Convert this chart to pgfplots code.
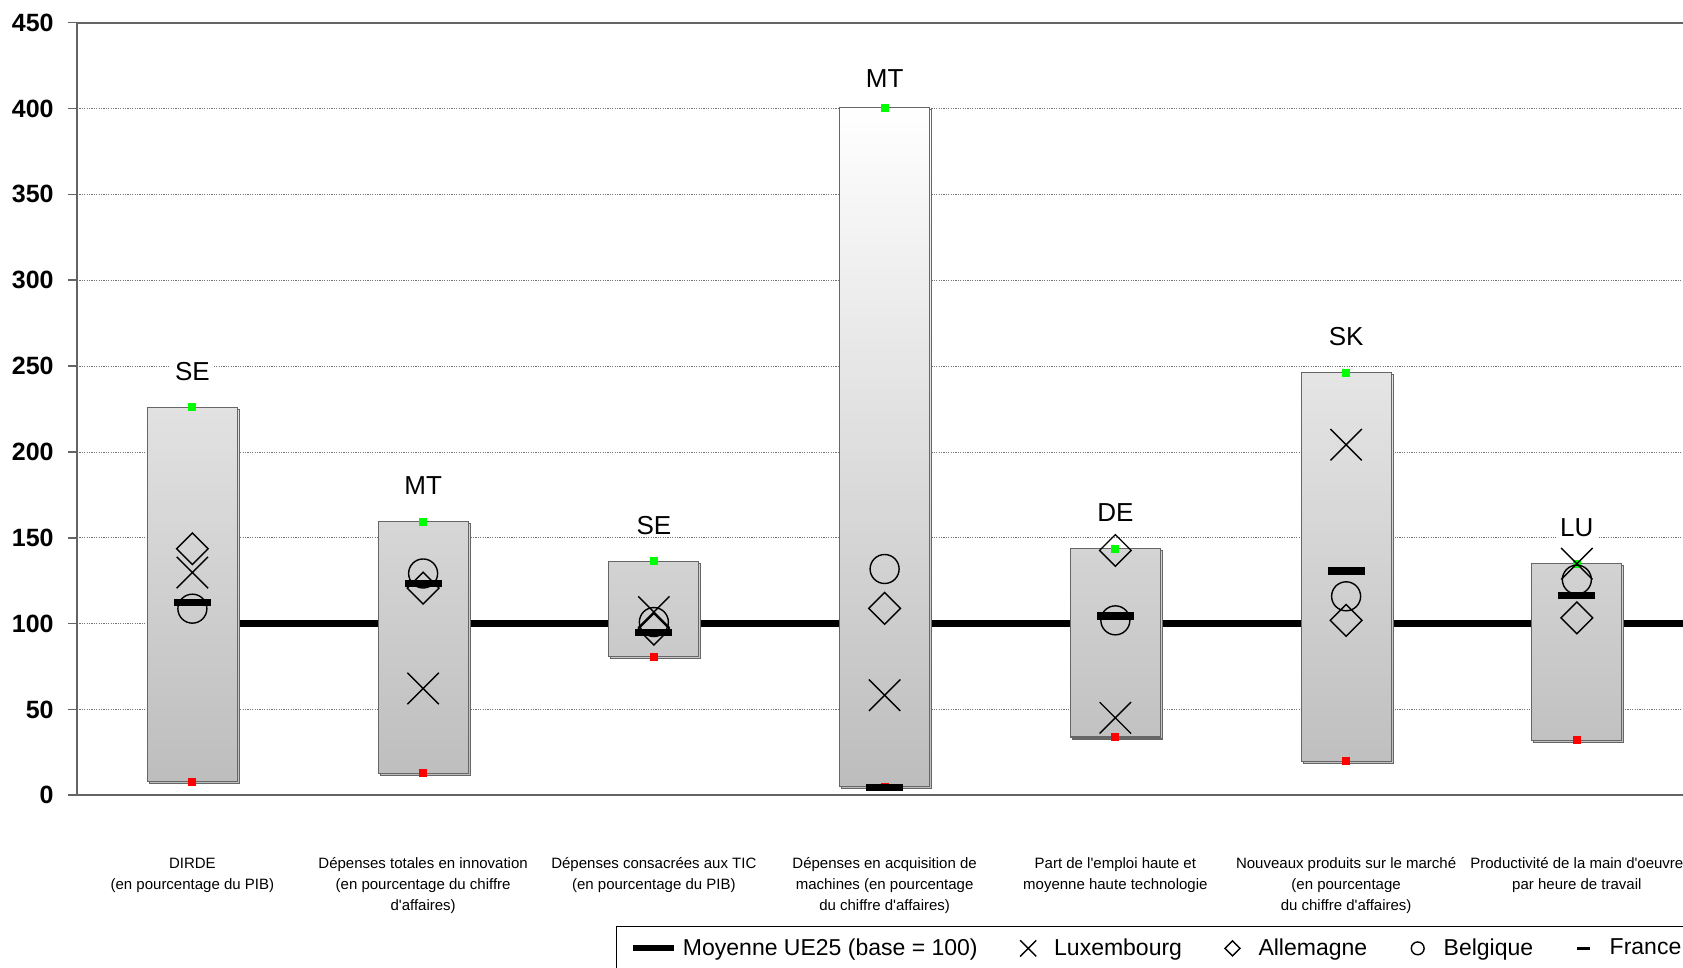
\documentclass[border=0pt]{standalone}
\usepackage{fontspec}
\setmainfont{Liberation Sans}[Ligatures=TeXOff]
\usepackage{pgfplots}
\usepackage{pgfplotstable}
\pgfplotsset{compat=1.18}
\usetikzlibrary{shadows}

% min / max of the range, then the four countries, the code of the best country
% and the lift of that code above the box (pt)
\pgfplotstableread{
x   min   max    lux    all    bel    fra    lab  off
0   8.0   226.0  129.7  143.6  108.7  112.2  SE   18
1   12.8  159.5  62.2   120.7  129.2  123.3  MT   18
2   80.8  136.3  106.7  96.7   100.9  94.8   SE   18
3   5.0   400.5  58.3   108.9  131.8  4.5    MT   14.8
4   34.0  143.6  45.1   142.6  101.9  104.4  DE   18
5   19.8  246.2  204.2  101.9  115.9  130.6  SK   18
6   32.0  134.8  134.9  103.3  125.6  116.5  LU   18
}\data

\definecolor{vert}{RGB}{0,255,0}
\definecolor{rouge}{RGB}{255,0,0}
\definecolor{axe}{RGB}{100,100,100}

\pgfplotsset{
  base/.style={
    scale only axis, width=803pt, height=386.3pt,
    xmin=-0.5, xmax=6.46, ymin=0, ymax=450,
    enlargelimits=false, clip=false,
  },
  hidden/.style={base, axis lines=none, xtick=\empty, ytick=\empty},
}

\begin{document}
\begin{tikzpicture}
% axes, grid and EU line
\begin{axis}[base,
  axis x line=box, axis y line=left,
  axis line style={-, axe, line width=1.1pt},
  ymajorgrids,
  grid style={black!55, line width=0.4pt, dash pattern=on 0.6pt off 0.6pt},
  ytick={0,50,...,450},
  tick align=outside, major tick length=4.5pt,
  ytick style={axe, line width=0.8pt},
  yticklabel style={font=\fontsize{12.5}{14}\selectfont\bfseries, inner sep=0pt, xshift=-7pt},
  /pgf/number format/assume math mode=true,
  xtick={0,...,6}, xtick style={draw=none},
  xticklabels={
    {\rule{0pt}{7pt}DIRDE\\(en pourcentage du PIB)},
    {\rule{0pt}{7pt}Dépenses totales en innovation\\(en pourcentage du chiffre\\d'affaires)},
    {\rule{0pt}{7pt}Dépenses consacrées aux TIC\\(en pourcentage du PIB)},
    {\rule{0pt}{7pt}Dépenses en acquisition de\\machines (en pourcentage\\du chiffre d'affaires)},
    {\rule{0pt}{7pt}Part de l'emploi haute et\\moyenne haute technologie},
    {\rule{0pt}{7pt}Nouveaux produits sur le marché\\(en pourcentage\\du chiffre d'affaires)},
    {\rule{0pt}{7pt}Productivité de la main d'oeuvre\\par heure de travail}},
  xticklabel style={font=\fontsize{7.5}{10.5}\selectfont, align=center, anchor=north, inner sep=0pt, yshift=-24.7pt},
]
\addplot[black, line width=3.2pt] coordinates {(0,100) (6.46,100)};
\coordinate (O) at (rel axis cs:0,0);
\end{axis}

% range boxes
\begin{axis}[hidden, ybar stacked, bar width=45pt]
\addplot[draw=none, fill=none] table[x=x, y=min]{\data};
\addplot[draw=black!60, line width=0.6pt, top color=white, bottom color=black!26,
  drop shadow={shadow xshift=1pt, shadow yshift=-1pt, fill=black!28, opacity=1}]
  table[x=x, y expr=\thisrow{max}-\thisrow{min}]{\data};
\end{axis}

% markers and legend
\begin{axis}[hidden,
  legend style={at={(rel axis cs:0.3356,-0.1692)}, anchor=north west, legend columns=5,
    draw=black, line width=0.5pt, inner xsep=7pt, inner ysep=6pt,
    font=\fontsize{11.5}{13}\selectfont,
    nodes={inner sep=0pt},
    /tikz/every odd column/.append style={column sep=2.75pt},
    /tikz/every even column/.append style={column sep=15pt}},
]
\addplot[only marks, mark=square*, mark size=1.75pt, rouge, forget plot] table[x=x, y=min]{\data};
\addplot[only marks, mark=square*, mark size=1.75pt, vert, forget plot,
  visualization depends on={\thisrow{off} \as \off},
  nodes near coords, point meta=explicit symbolic,
  nodes near coords style={anchor=center, yshift=\off pt, text=black, fill=white,
    inner xsep=2pt, inner ysep=1pt, font=\fontsize{13}{15}\selectfont}]
  table[x=x, y=max, meta=lab]{\data};
\addplot[only marks, mark=x, mark size=11.1pt, black, line width=0.7pt, forget plot] table[x=x, y=lux]{\data};
\addplot[only marks, mark=square, mark size=5.6pt, mark options={rotate=45}, black, line width=0.7pt, forget plot] table[x=x, y=all]{\data};
\addplot[only marks, mark=o, mark size=7.25pt, black, line width=0.7pt, forget plot] table[x=x, y=bel]{\data};
\addplot[only marks, mark=-, mark size=9.3pt, black, line width=3.7pt, forget plot] table[x=x, y=fra]{\data};

\addlegendimage{legend image code/.code={\draw[black, line width=3pt] (0pt,0pt) -- (20.5pt,0pt);}}
\addlegendentry{Moyenne UE25 (base = 100)}
\addlegendimage{legend image code/.code={\path[draw=none, fill=none] (0pt,0pt) -- (20.5pt,0pt);
  \path[draw=black, line width=0.7pt, mark=x, mark size=5.7pt] plot coordinates {(10.25pt,0pt)};}}
\addlegendentry{Luxembourg}
\addlegendimage{legend image code/.code={\path[draw=none, fill=none] (0pt,0pt) -- (20.5pt,0pt);
  \path[draw=black, line width=0.7pt, mark=square, mark size=2.65pt, mark options={rotate=45}] plot coordinates {(10.25pt,0pt)};}}
\addlegendentry{Allemagne}
\addlegendimage{legend image code/.code={\path[draw=none, fill=none] (0pt,0pt) -- (20.5pt,0pt);
  \path[draw=black, line width=0.7pt, mark=o, mark size=3.2pt] plot coordinates {(10.25pt,0pt)};}}
\addlegendentry{Belgique}
\addlegendimage{legend image code/.code={\path[draw=none, fill=none] (0pt,0pt) -- (20.5pt,0pt);
  \path[draw=black, line width=1.6pt, mark=-, mark size=3.2pt] plot coordinates {(10.25pt,0pt)};}}
\addlegendentry{France}
\end{axis}

\pgfresetboundingbox
\useasboundingbox ([xshift=-38.5pt, yshift=-86.35pt]O) rectangle ++(841.5pt,484pt);
\end{tikzpicture}
\end{document}
